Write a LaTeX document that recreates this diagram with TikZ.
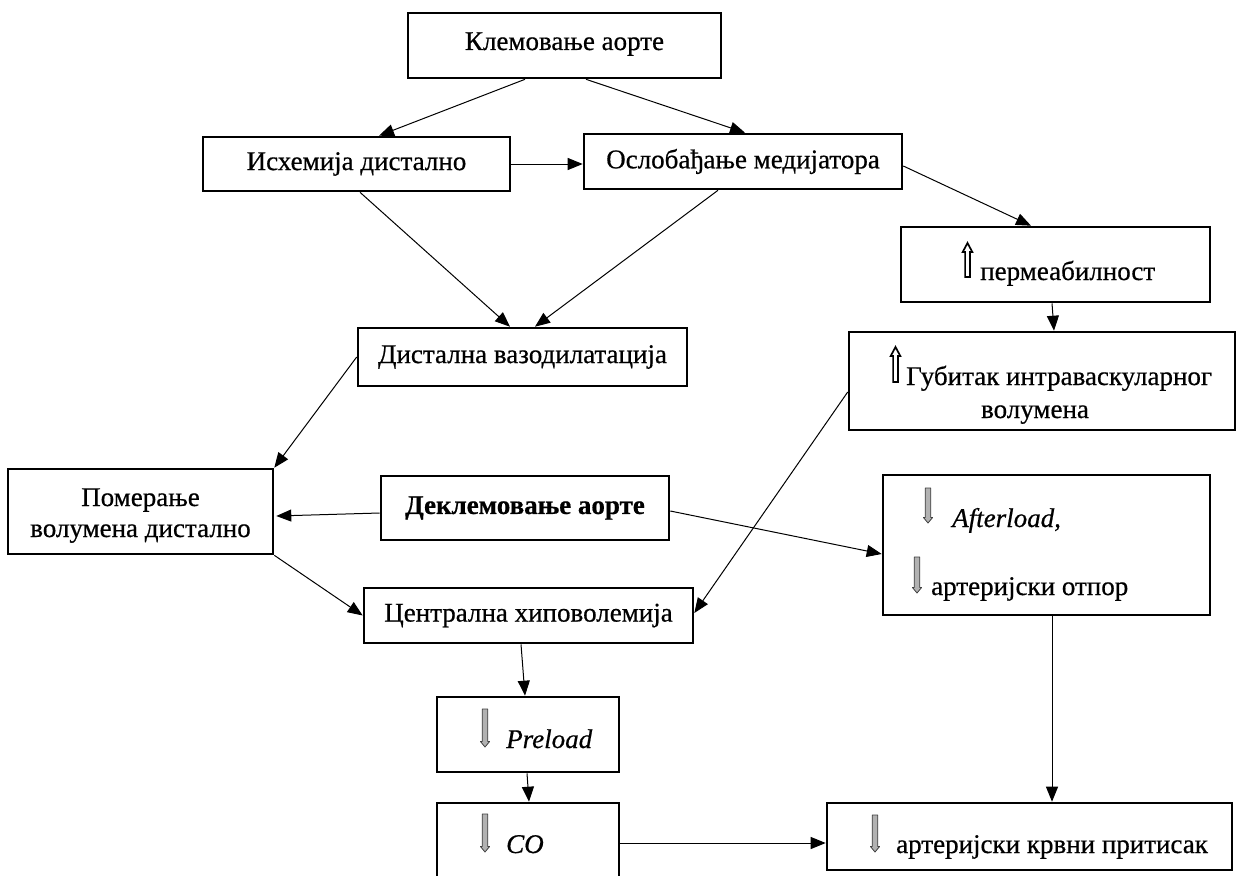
\documentclass[tikz,border=0pt]{standalone}
\usepackage{fontspec}
\setmainfont{Liberation Serif}[FakeBold=0.6]
\usetikzlibrary{arrows.meta,calc}
\newcommand{\grayDown}[3]{%
  \path[fill=gray!60, draw=gray!50!black, line width=0.8pt, line join=round]
    (#1-2.8,#2) -- (#1+2.8,#2) -- (#1+2.8,#3-5.5) -- (#1+4.6,#3-5.5) -- (#1,#3) -- (#1-4.6,#3-5.5) -- (#1-2.8,#3-5.5) -- cycle;}
\newcommand{\hollowUp}[3]{%
  \path[fill=white, draw=black, line width=1.7pt, line join=miter]
    (#1-2.4,#3) -- (#1-2.4,#2+9) -- (#1-4.8,#2+9) -- (#1,#2) -- (#1+4.8,#2+9) -- (#1+2.4,#2+9) -- (#1+2.4,#3) -- cycle;}
\tikzset{
  box/.style={draw, line width=2.6pt, inner sep=0pt, align=center, font=\fontsize{27}{31}\selectfont},
  lbl/.style={inner sep=0pt, font=\fontsize{27}{33}\selectfont},
  conn/.style={line width=1pt, -{Triangle[length=15pt,width=12pt]}}
}
\begin{document}
\begin{tikzpicture}[x=1pt,y=-1pt]
\useasboundingbox (0,0) rectangle (1238,875);
% boxes
\node[box, minimum width=313pt, minimum height=65pt] (klem) at (564.5,45.5) {};
\node[lbl, anchor=base] (klemt) at (564.5,50) {Клемовање аорте};
\node[box, minimum width=307pt, minimum height=54pt] (isch) at (356.5,164) {Исхемија дистално};
\node[box, minimum width=318pt, minimum height=55pt] (oslob) at (743,161.5) {Ослобађање медијатора};
\node[box, minimum width=309pt, minimum height=75pt] (perm) at (1055.5,264.5) {};
\node[box, minimum width=329pt, minimum height=58pt] (dist) at (522.5,357) {Дистална вазодилатација};
\node[box, minimum width=386pt, minimum height=98pt] (gub) at (1042,381) {};
\node[box, minimum width=265pt, minimum height=85pt] (pomer) at (140.5,511.5) {};
\node[lbl, anchor=base] (pomt1) at (140.5,506) {Померање};
\node[lbl, anchor=base] (pomt2) at (140.5,537) {волумена дистално};
\node[box, minimum width=288pt, minimum height=64pt] (deklem) at (525,508) {\bfseries Деклемовање аорте};
\node[box, minimum width=327pt, minimum height=140pt] (after) at (1046.5,545) {};
\node[box, minimum width=329pt, minimum height=55pt] (central) at (528.5,615.5) {Централна хиповолемија};
\node[box, minimum width=182pt, minimum height=75pt] (preload) at (528,734.5) {};
\node[box, minimum width=182pt, minimum height=82pt] (co) at (528,844) {};
\node[box, minimum width=405pt, minimum height=67pt] (art) at (1029.5,836.5) {};
% texts with icons
\node[lbl, anchor=base west] (permt) at (980,280) {пермеабилност};
\node[lbl, anchor=base west] (gubt1) at (906,385) {Губитак интраваскуларног};
\node[lbl, anchor=base] (gubt2) at (1035,418) {волумена};
\node[lbl, anchor=base west] (aftt1) at (952,527) {\itshape Afterload,};
\node[lbl, anchor=base west] (aftt2) at (931,595) {артеријски отпор};
\node[lbl, anchor=base west] (prelt) at (506,748) {\itshape Preload};
\node[lbl, anchor=base west] (cot) at (506,853) {\itshape CO};
\node[lbl, anchor=base west] (artt) at (896,853) {артеријски крвни притисак};
% icons
\hollowUp{967.5}{243}{277}
\hollowUp{895.5}{347}{382}
\grayDown{928}{488}{523}
\grayDown{917}{557}{593}
\grayDown{485}{709}{747}
\grayDown{485}{814}{852}
\grayDown{875}{815}{852}
% connectors
\draw[conn] ($(klem.south)+(-39.5,0)$) -- ($(isch.north)+(22.5,0)$);
\draw[conn] ($(klem.south)+(21.5,0)$) -- ($(oslob.north)+(2,0)$);
\draw[conn] (isch.east) -- (isch.east -| oslob.west);
\draw[conn] ($(oslob.east)+(0,4.5)$) -- ($(perm.north)+(-24.5,0)$);
\draw[conn] ($(isch.south)+(3.5,0)$) -- ($(dist.north)+(-12.5,0)$);
\draw[conn] ($(oslob.south)+(-25,0)$) -- ($(dist.north)+(12.5,0)$);
\draw[conn] ($(perm.south)+(-3.5,0)$) -- ($(gub.north)+(12,0)$);
\draw[conn] (dist.west) -- (pomer.north east);
\draw[conn] ($(deklem.west)+(0,5)$) -- ($(pomer.east)+(2,4.5)$);
\draw[conn] (pomer.south east) -- (central.west);
\draw[conn] ($(gub.west)+(0,11)$) -- ($(central.east)+(0,-2.5)$);
\draw[conn] ($(deklem.east)+(0,3)$) -- ($(after.west)+(0,9)$);
\draw[conn] ($(central.south)+(-7.5,0)$) -- ($(preload.north)+(-3,0)$);
\draw[conn] ($(preload.south)+(-1,0)$) -- ($(co.north)+(1,0)$);
\draw[conn] ($(co.east)+(0,-1)$) -- ($(co.east -| art.west)+(0,-1)$);
\coordinate (afs) at ($(after.south)+(5.5,0)$);
\draw[conn] (afs) -- (afs |- art.north);
\end{tikzpicture}
\end{document}
